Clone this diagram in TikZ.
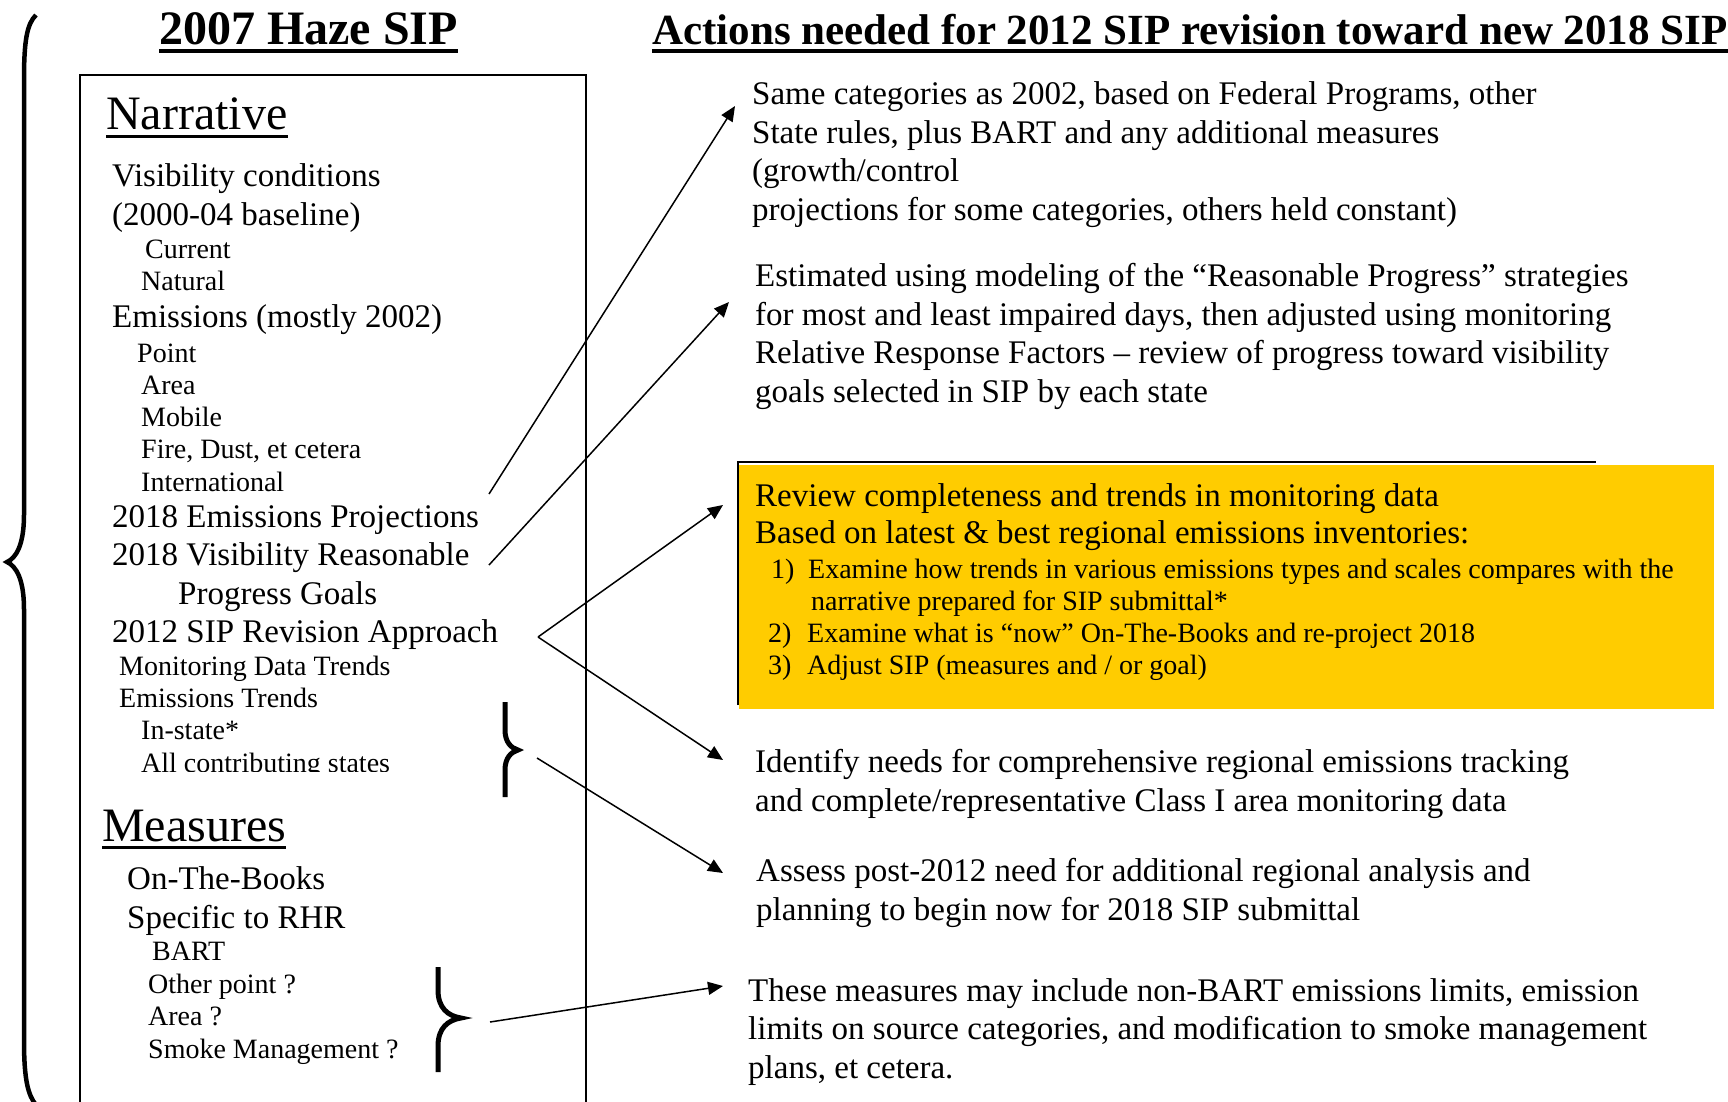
\documentclass[tikz,border=0pt]{standalone}
\usepackage{fontspec}
\setmainfont{Liberation Serif}
\usetikzlibrary{arrows.meta,calc}
\definecolor{boxyellow}{RGB}{255,204,0}
\tikzset{
  big/.style={anchor=base west, inner sep=0pt, align=left, font=\fontsize{33}{38.5}\selectfont},
  small/.style={anchor=base west, inner sep=0pt, align=left, font=\fontsize{28}{32}\selectfont},
  heading/.style={anchor=base west, inner sep=0pt, font=\fontsize{48}{56}\selectfont},
  title/.style={anchor=base west, inner sep=0pt, font=\bfseries\fontsize{48}{56}\selectfont},
  ptr/.style={line width=1.5pt, -{Triangle[length=15pt,width=13pt]}},
  brace/.style={line width=5pt},
  uline/.style={line width=4pt}
}
\begin{document}
\begin{tikzpicture}[x=1pt,y=-1pt]
  \useasboundingbox (0,0) rectangle (1728,1101);
  \clip (0,0) rectangle (1728,1101);
  % titles
  \node[title] (haze) at (159,44) {2007 Haze SIP};
  \node[title, font=\bfseries\fontsize{43}{50}\selectfont] (acts) at (652,44) {Actions needed for 2012 SIP revision toward new 2018 SIP};
  \draw[uline] ($(haze.base west)+(0,7)$) -- ($(haze.base east)+(0,7)$);
  \draw[uline] ($(acts.base west)+(0,7)$) -- ($(acts.base east)+(0,7)$);
  % big brace and the box
  \draw[line width=4.5pt] (36,15) .. controls (27,24) and (24,40) .. (24,80) -- (24,515)
    .. controls (24,545) and (16,558) .. (7,562) .. controls (16,566) and (24,579) .. (24,609)
    -- (24,1040) .. controls (24,1080) and (28,1095) .. (36,1105);
  \draw[line width=1.5pt] (80,75) rectangle (586,1120);
  % narrative
  \node[heading] (narr) at (106,129) {Narrative};
  \draw[line width=3pt] ($(narr.base west)+(0,7)$) -- ($(narr.base east)+(0,7)$);
  \node[big] (vis) at (112,186) {Visibility conditions};
  \node[big] (base) at (112,225) {(2000-04 baseline)};
  \node[small] (cur) at (145,258) {Current};
  \node[small] (nat) at (141,290) {Natural};
  \node[big] (emis) at (112,327) {Emissions (mostly 2002)};
  \node[small] (pt) at (137,362) {Point};
  \node[small] (area) at (141,394) {Area};
  \node[small] (mob) at (141,426) {Mobile};
  \node[small] (fire) at (141,458) {Fire, Dust, et cetera};
  \node[small] (intl) at (141,491) {International};
  \node[big] (proj) at (112,527) {2018 Emissions Projections};
  \node[big] (rpg) at (112,565) {2018 Visibility Reasonable};
  \node[big] (goals) at (178,604) {Progress Goals};
  \node[big] (appr) at (112,642) {2012 SIP Revision Approach};
  \node[small] (mon) at (119,675) {Monitoring Data Trends};
  \node[small] (etr) at (119,707) {Emissions Trends};
  \node[small] (inst) at (141,739) {In-state*};
  \begin{scope}
    \clip (100,745) rectangle (500,771);
    \node[small] (allst) at (141,772) {All contributing states};
  \end{scope}
  % measures
  \node[heading] (meas) at (102,841) {Measures};
  \draw[line width=3pt] ($(meas.base west)+(0,6)$) -- ($(meas.base east)+(0,6)$);
  \node[big] (otb) at (127,889) {On-The-Books};
  \node[big] (rhr) at (127,928) {Specific to RHR};
  \node[small] (bart) at (152,960) {BART};
  \node[small] (opt) at (148,993) {Other point ?};
  \node[small] (area2) at (148,1025) {Area ?};
  \node[small] (smoke) at (148,1058) {Smoke Management ?};
  % small braces
  \draw[brace] (505,702) -- (505,730) .. controls (505,742) and (511,748) .. (518,750)
    .. controls (511,752) and (505,758) .. (505,770) -- (505,797);
  \draw[brace] (438,967) -- (438,990) .. controls (438,1008) and (448,1016) .. (461,1018)
    .. controls (448,1020) and (438,1028) .. (438,1046) -- (438,1072);
  % yellow box
  \fill[boxyellow] (739,465) rectangle (1714,709);
  \draw[line width=1.5pt] (738,705) -- (738,462) -- (1596,462);
  % right hand texts (placed at the baseline of their last line)
  \node[big] (same) at (752,220) {Same categories as 2002, based on Federal Programs, other\\
    State rules, plus BART and any additional measures\\(growth/control\\
    projections for some categories, others held constant)};
  \node[big] (est) at (755,402) {Estimated using modeling of the “Reasonable Progress” strategies\\
    for most and least impaired days, then adjusted using monitoring\\
    Relative Response Factors – review of progress toward visibility\\
    goals selected in SIP by each state};
  \node[big, font=\fontsize{33}{37}\selectfont] (rev) at (755,543) {Review completeness and trends in monitoring data\\
    Based on latest \& best regional emissions inventories:};
  \node[small] (steps) at (771,674) {\makebox[37pt][l]{1)}Examine how trends in various emissions types and scales compares with the\\
    \hspace*{40pt}narrative prepared for SIP submittal*\\
    \hspace*{-3pt}\makebox[39pt][l]{2)}Examine what is “now” On-The-Books and re-project 2018\\
    \hspace*{-3pt}\makebox[39pt][l]{3)}Adjust SIP (measures and / or goal)};
  \node[big] (ident) at (755,811) {Identify needs for comprehensive regional emissions tracking\\
    and complete/representative Class I area monitoring data};
  \node[big] (assess) at (756,920) {Assess post-2012 need for additional regional analysis and\\
    planning to begin now for 2018 SIP submittal};
  \node[big] (these) at (748,1078) {These measures may include non-BART emissions limits, emission\\
    limits on source categories, and modification to smoke management\\
    plans, et cetera.};
  % connectors
  \coordinate (projtip) at (489,494);
  \coordinate (rpgtip) at (489,565);
  \coordinate (apprtip) at (538,637);
  \coordinate (bracetip) at (537,758);
  \coordinate (meastip) at (490,1022);
  \coordinate (sameend) at (735,106);
  \coordinate (estend) at (729,302);
  \coordinate (revend) at (723,505);
  \coordinate (identend) at (723,760);
  \coordinate (assessend) at (723,873);
  \coordinate (theseend) at (723,986);
  \draw[ptr] (projtip) -- (sameend);
  \draw[ptr] (rpgtip) -- (estend);
  \draw[ptr] (apprtip) -- (revend);
  \draw[ptr] (apprtip) -- (identend);
  \draw[ptr] (bracetip) -- (assessend);
  \draw[ptr] (meastip) -- (theseend);
\end{tikzpicture}
\end{document}
